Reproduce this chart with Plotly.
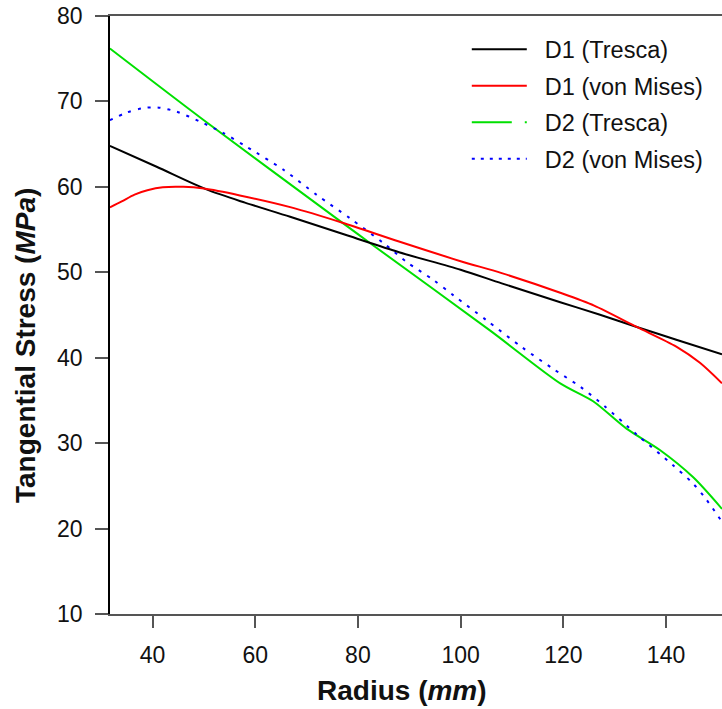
import plotly.graph_objects as go

# D1 (Tresca)
d1_t_x = [31.7, 40.8, 50.5, 58, 66.8, 78, 88, 100, 108, 119.4, 127, 134.3, 142, 150.9]
d1_t_y = [64.8, 62.35, 59.7, 58.15, 56.5, 54.3, 52.35, 50.3, 48.7, 46.5, 45.05, 43.6, 42.1, 40.4]

# D1 (von Mises)
d1_v_x = [31.7, 34, 36.5, 39, 42, 46, 50, 57, 67, 77, 88, 100, 108, 119.4, 126, 134.3, 142, 146.6, 150.9]
d1_v_y = [57.6, 58.3, 59.1, 59.6, 59.95, 60.0, 59.8, 59.0, 57.6, 55.8, 53.6, 51.3, 49.9, 47.6, 46.1, 43.6, 41.3, 39.4, 37.0]

# D2 (Tresca)
d2_t_x = [31.7, 50, 77.2, 82.4, 105.7, 119.4, 125.8, 132.3, 138.8, 145.3, 150.9]
d2_t_y = [76.2, 67.8, 55.7, 53.4, 43.2, 37.0, 34.9, 31.7, 29.2, 26.0, 22.3]

# D2 (von Mises)
d2_v_x = [31.7, 35, 38, 41, 44.7, 49.2, 53.8, 58.3, 65.5, 72, 78.5, 85, 89.5, 94.7, 98.6, 105, 112, 118, 123.3, 128.1, 134.3, 141.2, 145.2, 147.6, 150.9]
d2_v_y = [67.8, 68.7, 69.2, 69.3, 68.8, 67.65, 66.3, 64.7, 62.0, 59.05, 56.3, 53.4, 51.2, 49.1, 47.3, 44.4, 41.2, 38.7, 36.6, 34.3, 31.0, 27.5, 25.3, 23.6, 20.8]

x_ticks = [40, 60, 80, 100, 120, 140]
y_ticks = [10, 20, 30, 40, 50, 60, 70, 80]

x_title = "<b>Radius (<i>mm</i>)</b>"
y_title = "<b>Tangential Stress (<i>MPa</i>)</b>"

FONT = "Liberation Sans, Arial, sans-serif"
SM = 0.8

fig = go.Figure()

fig.add_trace(go.Scatter(x=d2_t_x, y=d2_t_y, mode="lines",
                         line=dict(color="#00e000", width=2, shape="spline", smoothing=SM),
                         name="D2 (Tresca)", showlegend=False))
fig.add_trace(go.Scatter(x=d2_v_x, y=d2_v_y, mode="lines",
                         line=dict(color="#0000ff", width=2, shape="spline", smoothing=SM, dash="3px,7px"),
                         name="D2 (von Mises)", showlegend=False))
fig.add_trace(go.Scatter(x=d1_t_x, y=d1_t_y, mode="lines",
                         line=dict(color="#000000", width=2, shape="spline", smoothing=SM),
                         name="D1 (Tresca)", showlegend=False))
fig.add_trace(go.Scatter(x=d1_v_x, y=d1_v_y, mode="lines",
                         line=dict(color="#ff0000", width=2, shape="spline", smoothing=SM),
                         name="D1 (von Mises)", showlegend=False))

# legend entries
leg = [
    ("D1 (Tresca)", "#000000", "solid"),
    ("D1 (von Mises)", "#ff0000", "solid"),
    ("D2 (Tresca)", "#00e000", "40px,13px,2px,10px"),
    ("D2 (von Mises)", "#0000ff", "3px,6px"),
]
for i, (nm, c, d) in enumerate(leg):
    fig.add_trace(go.Scatter(x=[None], y=[None], mode="lines", name="\u00a0\u00a0" + nm, legendgroup=nm,
                             legendrank=i + 1, line=dict(color=c, width=2, dash=d)))

fig.update_layout(
    width=722, height=709,
    margin=dict(l=110, r=0, t=16, b=95),
    paper_bgcolor="white", plot_bgcolor="white",
    font=dict(family=FONT, size=23, color="#111"),
    showlegend=True,
    legend=dict(x=0.583, y=0.981, xanchor="left", yanchor="top", bgcolor="rgba(0,0,0,0)",
                font=dict(size=23.5, family=FONT, color="#111"), itemwidth=55, tracegroupgap=3,
                traceorder="grouped"),
    xaxis=dict(range=[31.72, 150.9], tickvals=x_ticks, ticks="outside", ticklen=12, tickwidth=1.5,
               tickcolor="#555", showline=True, linecolor="#555", linewidth=1.5, mirror=True,
               showgrid=False, zeroline=False, tickfont=dict(size=23, family=FONT, color="#111"),
               ticklabelstandoff=8),
    yaxis=dict(range=[10, 80], tickvals=y_ticks, ticks="outside", ticklen=13, tickwidth=1.5,
               tickcolor="#555", showline=True, linecolor="#000", linewidth=1.5,
               showgrid=False, zeroline=False, tickfont=dict(size=23, family=FONT, color="#111"),
               ticklabelstandoff=8),
    annotations=[
        dict(text=x_title, xref="paper", yref="paper", x=(402 - 110) / 612, y=-(690 - 614) / 598,
             xanchor="center", yanchor="middle", showarrow=False,
             font=dict(size=28, family=FONT, color="#111")),
        dict(text=y_title, xref="paper", yref="paper", x=-(110 - 25) / 612, y=1 - (346 - 16) / 598,
             xanchor="center", yanchor="middle", showarrow=False, textangle=-90,
             font=dict(size=28, family=FONT, color="#111")),
    ],
)

fig.write_html("out.html")
